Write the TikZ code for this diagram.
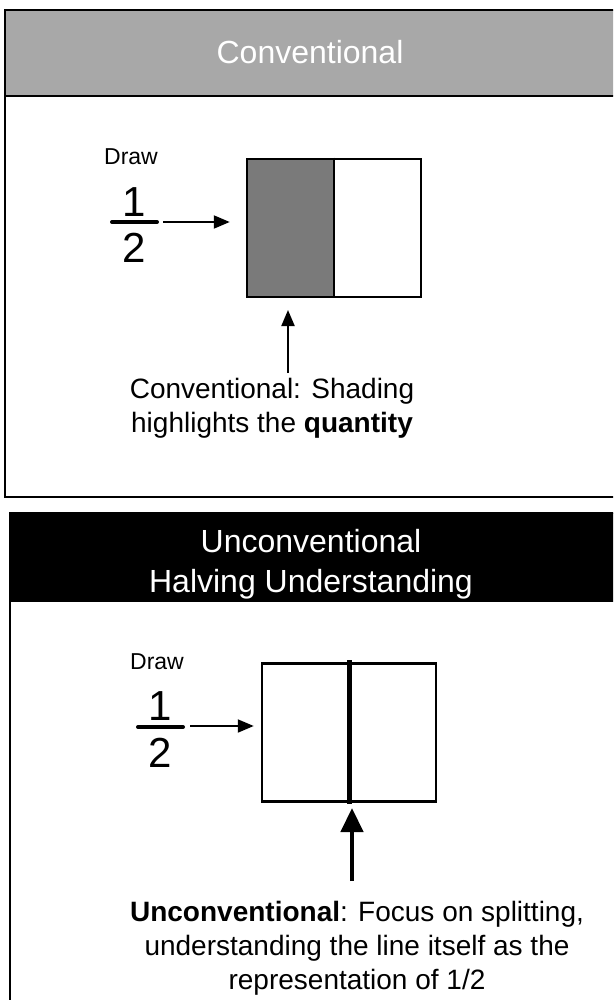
\documentclass[tikz,border=0pt]{standalone}
\usepackage{fontspec}
\setmainfont{Liberation Sans}
\usetikzlibrary{arrows.meta}
\definecolor{hdrgray}{HTML}{A8A8A8}
\definecolor{shadegray}{HTML}{7A7A7A}
\begin{document}
\begin{tikzpicture}[x=1pt,y=-1pt,
  panel/.style={draw=black,line width=2pt},
  titletext/.style={text=white,font=\fontsize{32}{40}\selectfont,align=center,inner sep=0pt},
  drawlabel/.style={font=\fontsize{23}{27}\selectfont,inner sep=0pt},
  digit/.style={font=\fontsize{42}{48}\selectfont,inner sep=0pt},
  fracbar/.style={line width=4pt,line cap=round},
  caption/.style={font=\fontsize{28}{34}\selectfont,align=center,inner sep=0pt},
  fracbox/.style={draw=black,line width=2.5pt,minimum width=174pt,minimum height=138pt,inner sep=0pt},
  thinarrow/.style={line width=2pt,-{Triangle[length=16pt,width=13pt]}},
  thickarrow/.style={line width=4.5pt,-{Triangle[length=24pt,width=22pt]}}]
\useasboundingbox (0,0) rectangle (613,1000);
\clip (0,0) rectangle (613,1000);
% ---------- top panel ----------
\fill[hdrgray] (5,10) rectangle (640,96);
\draw[panel] (5,10) rectangle (640,497);
\draw[panel] (5,96) -- (640,96);
\node[titletext] (t1) at (310,52) {Conventional};
\node[drawlabel] (draw1) at (131,157) {Draw};
\node[digit] (num1) at (134,202) {1};
\node[digit] (den1) at (134,248) {2};
\coordinate (bar1w) at (112,222);
\coordinate (bar1e) at (157,222);
\draw[fracbar] (bar1w) -- (bar1e);
\fill[shadegray] (247,159) rectangle (334,297);
\node[fracbox] (box1) at (334,228) {};
\draw[line width=2.5pt] (box1.north) -- (box1.south);
\coordinate (arr1s) at (163,222);
\draw[thinarrow,shorten >=16pt] (arr1s) -- (box1.west |- arr1s);
\node[caption] (cap1) at (272,408) {Conventional: Shading\\highlights the \textbf{quantity}};
\coordinate (up1s) at (288,373);
\coordinate (up1e) at (288,310);
\draw[thinarrow] (up1s) -- (up1e);
% ---------- bottom panel ----------
\fill[black] (10,513) rectangle (640,602);
\draw[panel] (10,513) rectangle (640,1040);
\node[titletext] (t2) at (311,564) {Unconventional\\Halving Understanding};
\node[drawlabel] (draw2) at (157,662) {Draw};
\node[digit] (num2) at (160,706) {1};
\node[digit] (den2) at (160,753) {2};
\coordinate (bar2w) at (138,727);
\coordinate (bar2e) at (183,727);
\draw[fracbar] (bar2w) -- (bar2e);
\node[fracbox] (box2) at (349,732.5) {};
\draw[line width=5pt] ([yshift=2pt]box2.north) -- ([yshift=-1pt]box2.south);
\coordinate (arr2s) at (190,726);
\draw[thinarrow,shorten >=7pt] (arr2s) -- (box2.west |- arr2s);
\coordinate (up2s) at (352,881);
\coordinate (up2e) at (352,808);
\draw[thickarrow] (up2s) -- (up2e);
\node[caption] (cap2) at (357,948) {\textbf{Unconventional}: Focus on splitting,\\understanding the line itself as the\\representation of 1/2};
\end{tikzpicture}
\end{document}
